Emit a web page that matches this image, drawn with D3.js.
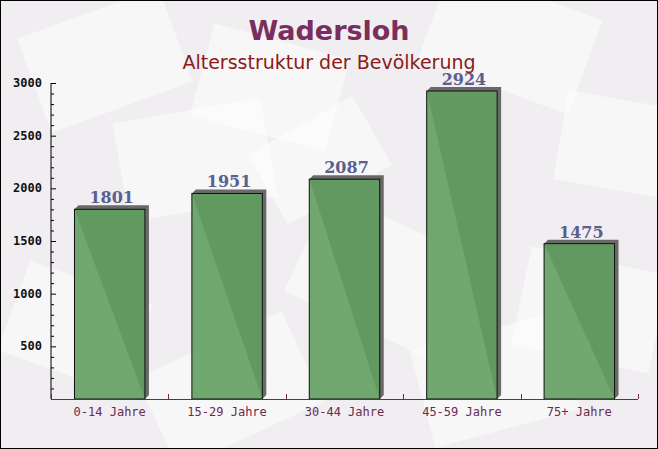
<!DOCTYPE html>
<html><head><meta charset="utf-8">
<script src="https://cdnjs.cloudflare.com/ajax/libs/d3/7.8.5/d3.min.js"></script>
<style>body{margin:0;padding:0;background:#fff}svg{display:block}</style>
</head><body>
<script>
const title = "Wadersloh";
const subtitle = "Altersstruktur der Bevölkerung";
const categories = ["0-14 Jahre", "15-29 Jahre", "30-44 Jahre", "45-59 Jahre", "75+ Jahre"];
const values = [1801, 1951, 2087, 2924, 1475];
const yTicks = [500, 1000, 1500, 2000, 2500, 3000];

const W = 658, H = 449;
const svg = d3.select("body").append("svg").attr("width", W).attr("height", H);

// background
svg.append("rect").attr("width", W).attr("height", H).attr("fill", "#f1eef1");
const deco = [
  [30, 10, 150, 100, -20], [200, 40, 140, 95, 15], [430, -10, 160, 100, 20], [560, 100, 120, 90, 10],
  [120, 110, 150, 100, -10], [300, 220, 160, 110, 25], [420, 330, 150, 100, -15], [10, 280, 130, 95, 20],
  [150, 340, 160, 100, -25], [520, 260, 140, 100, 12], [260, 120, 120, 80, -30]
];
const dg = svg.append("g");
deco.forEach(d => {
  dg.append("rect").attr("x", d[0]).attr("y", d[1]).attr("width", d[2]).attr("height", d[3])
    .attr("fill", "#ffffff").attr("opacity", 0.5)
    .attr("transform", `rotate(${d[4]},${d[0] + d[2] / 2},${d[1] + d[3] / 2})`);
});

const m = {left: 51, right: 20, top: 83, bottom: 50};
const x = d3.scaleBand().domain(categories).range([m.left, 638]).paddingInner(0.4).paddingOuter(0.2);
const y = d3.scaleLinear().domain([0, 3000]).range([399, 83]);

// bars
const bars = svg.append("g");
categories.forEach((c, i) => {
  const bx = x(c), bw = x.bandwidth(), by = y(values[i]), bh = y(0) - y(values[i]);
  bars.append("path")
    .attr("d", `M${bx},${by} L${bx + 4},${by - 4} L${bx + bw + 4},${by - 4} L${bx + bw + 4},${by + bh - 4} L${bx + bw},${by + bh} Z`)
    .attr("fill", "#5a5a5a").attr("opacity", 0.9);
  bars.append("rect").attr("x", bx).attr("y", by).attr("width", bw).attr("height", bh)
    .attr("fill", "#619e61").attr("fill-opacity", 0.9)
    .attr("stroke", "#111").attr("stroke-width", 1);
  svg.append("text").attr("x", bx + bw / 2 + 2).attr("y", by - 6)
    .attr("text-anchor", "middle").attr("font-family", "DejaVu Serif, serif").attr("font-weight", "bold")
    .attr("font-size", 16).attr("fill", "#5a5f8f").text(values[i]);
});

// y axis
const yAxis = svg.append("g").attr("transform", `translate(${m.left},0)`);
yAxis.append("line").attr("x1", 0).attr("x2", 0).attr("y1", y(3000)).attr("y2", y(0)).attr("stroke", "#000");
d3.range(100, 3001, 100).forEach(v => {
  const major = v % 500 === 0;
  yAxis.append("line").attr("x1", 0).attr("x2", major ? 5 : 3).attr("y1", y(v) + 0.5).attr("y2", y(v) + 0.5).attr("stroke", "#000");
});
yTicks.forEach(v => {
  yAxis.append("text").attr("x", -9).attr("y", y(v) + 4).attr("text-anchor", "end")
    .attr("font-family", "DejaVu Sans Mono, monospace").attr("font-weight", "bold").attr("font-size", 12)
    .attr("fill", "#111").text(v);
});

// x axis
const xAxis = svg.append("g");
xAxis.append("line").attr("x1", m.left).attr("x2", 638).attr("y1", 399.5).attr("y2", 399.5).attr("stroke", "#6b2a4f");
d3.range(0, categories.length + 1).forEach(i => {
  const tx = Math.round(m.left + i * (587 / 5)) + 0.5;
  xAxis.append("line").attr("x1", tx).attr("x2", tx).attr("y1", 399).attr("y2", 394).attr("stroke", "#6b2a4f");
});
categories.forEach(c => {
  xAxis.append("text").attr("x", x(c) + x.bandwidth() / 2).attr("y", 416).attr("text-anchor", "middle")
    .attr("font-family", "DejaVu Sans Mono, monospace").attr("font-size", 12)
    .attr("fill", "#6b2a4f").text(c);
});

// titles
svg.append("text").attr("x", 329).attr("y", 40).attr("text-anchor", "middle")
  .attr("font-family", "DejaVu Sans, sans-serif").attr("font-weight", "bold").attr("font-size", 27)
  .attr("fill", "#7a2e5e").text(title);
svg.append("text").attr("x", 329).attr("y", 69).attr("text-anchor", "middle")
  .attr("font-family", "DejaVu Sans, sans-serif").attr("font-size", 19)
  .attr("fill", "#8b1a1a").text(subtitle);

// frame
svg.append("rect").attr("x", 0.5).attr("y", 0.5).attr("width", W - 1).attr("height", H - 1)
  .attr("fill", "none").attr("stroke", "#000");
</script>
</body></html>
